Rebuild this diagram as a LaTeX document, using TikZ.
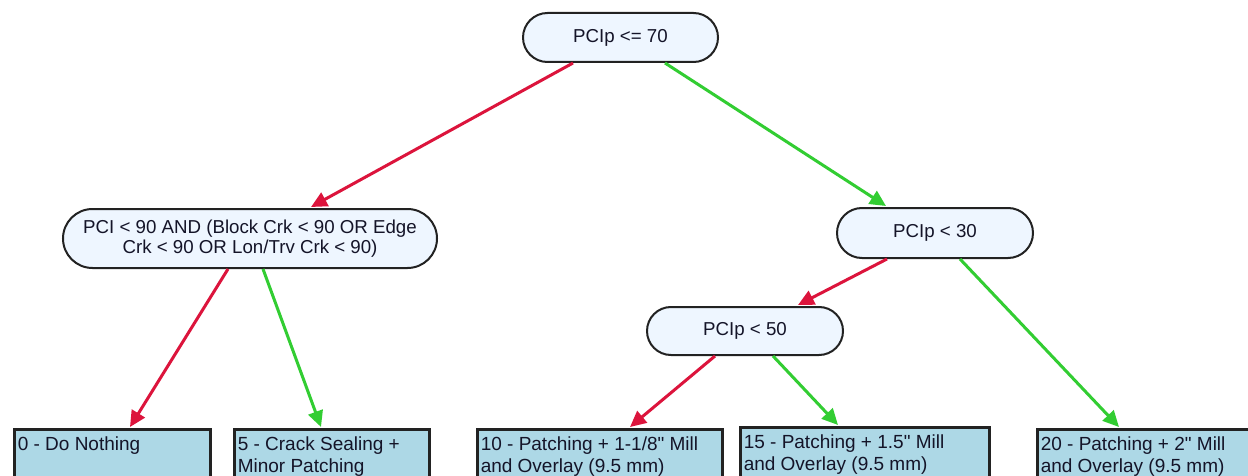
\documentclass[tikz,border=0pt]{standalone}
\usepackage{fontspec}
\setmainfont{Liberation Sans}[Ligatures=TeXOff]
\usetikzlibrary{arrows.meta,calc,shapes.misc}
\definecolor{nofill}{RGB}{238,246,255}
\definecolor{leaffill}{RGB}{173,216,230}
\definecolor{noline}{RGB}{34,34,34}
\definecolor{redarr}{RGB}{220,20,60}
\definecolor{greenarr}{RGB}{50,205,50}
\definecolor{txt}{RGB}{20,20,40}
\tikzset{
  decision/.style={rounded rectangle, draw=noline, line width=2pt, fill=nofill,
    text=txt, align=center, inner sep=0pt,
    font=\fontsize{18.7}{20.5}\selectfont},
  leafbox/.style={rectangle, draw=noline, line width=2.5pt, fill=leaffill,
    text=txt, anchor=north west, inner xsep=3.5pt, inner ysep=5pt, align=left,
    font=\fontsize{19}{22.7}\selectfont},
  noarr/.style={draw=redarr, line width=3pt, -{Triangle[length=16pt,width=15pt]}},
  yesarr/.style={draw=greenarr, line width=3pt, -{Triangle[length=16pt,width=15pt]}}
}
\newcommand{\leaftext}[2]{\begin{minipage}[t][57pt][t]{#1}\strut #2\end{minipage}}
\begin{document}
\begin{tikzpicture}[x=1pt,y=-1pt]
\useasboundingbox (0,0) rectangle (1248,476);
\clip (0,0) rectangle (1248,476);
\fill[white] (0,0) rectangle (1248,476);
% decisions
\node[decision, minimum width=195pt, minimum height=49pt] (root) at (620.5,37.5) {PCIp <= 70};
\node[decision, minimum width=374pt, minimum height=59pt] (left) at (250,238.5) {PCI < 90 AND (Block Crk < 90 OR Edge\\Crk < 90 OR Lon/Trv Crk < 90)};
\node[decision, minimum width=196pt, minimum height=50pt] (r30) at (935,233) {PCIp < 30};
\node[decision, minimum width=196pt, minimum height=48pt] (r50) at (745,331) {PCIp < 50};
% leaves
\node[leafbox] (b0) at (13,428) {\leaftext{189pt}{0 - Do Nothing}};
\node[leafbox] (b5) at (233,428) {\leaftext{188pt}{5 - Crack Sealing +\\Minor Patching}};
\node[leafbox] (b10) at (476,428) {\leaftext{238pt}{10 - Patching + 1-1/8" Mill\\and Overlay (9.5 mm)}};
\node[leafbox] (b15) at (739,426) {\leaftext{242pt}{15 - Patching + 1.5" Mill\\and Overlay (9.5 mm)}};
\node[leafbox] (b20) at (1036,428) {\leaftext{210pt}{20 - Patching + 2" Mill\\and Overlay (9.5 mm)}};
% connectors
\draw[noarr] ($(root.south)+(-47.5,0)$) -- ($(left.north)+(61,-1)$);
\draw[yesarr] ($(root.south)+(44.5,0)$) -- ($(r30.north)+(-49,-1)$);
\draw[noarr] ($(left.south)+(-22,0)$) -- ($(b0.north west)+(117,-1)$);
\draw[yesarr] ($(left.south)+(13,0)$) -- ($(b5.north west)+(88,-1)$);
\draw[noarr] ($(r30.south)+(-48,0)$) -- ($(r50.north)+(53,-1)$);
\draw[yesarr] ($(r30.south)+(25,0)$) -- ($(b20.north west)+(83,-1)$);
\draw[noarr] ($(r50.south)+(-30,0)$) -- ($(b10.north west)+(154,-1)$);
\draw[yesarr] ($(r50.south)+(28,0)$) -- ($(b15.north west)+(99,-1)$);
\end{tikzpicture}
\end{document}
